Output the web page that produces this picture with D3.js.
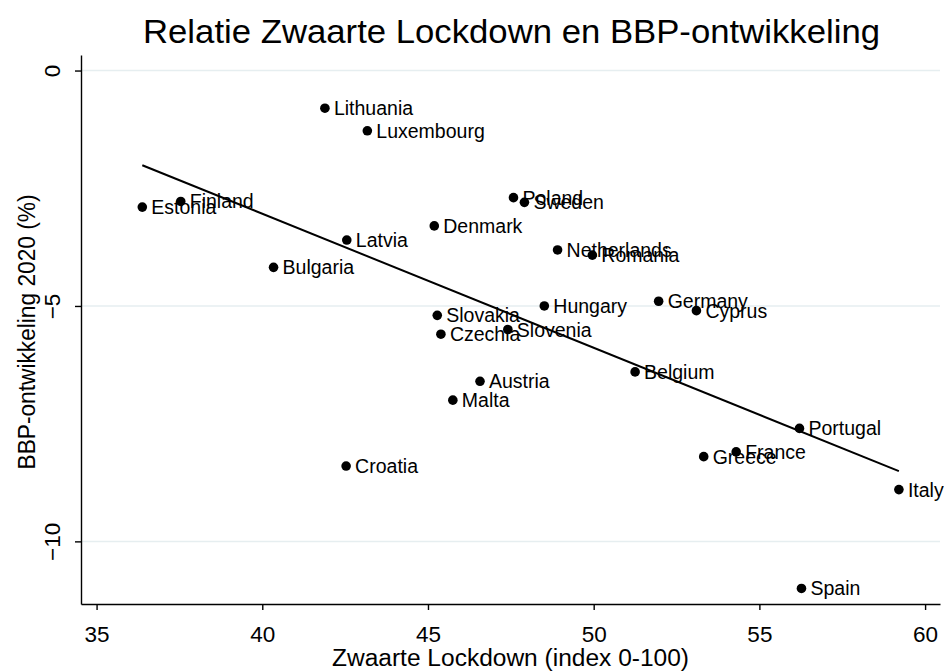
<!DOCTYPE html>
<html>
<head>
<meta charset="utf-8">
<script src="https://cdn.jsdelivr.net/npm/d3@7"></script>
<style>
  html, body { margin: 0; padding: 0; background: #fff; }
  svg { display: block; font-family: "Liberation Sans", Arial, Helvetica, sans-serif; }
</style>
</head>
<body>
<svg id="chart" width="944" height="671"></svg>
<script>
// ---- data ----
const countries = ["Estonia","Finland","Lithuania","Luxembourg","Latvia","Bulgaria","Denmark","Poland","Sweden","Netherlands","Romania","Hungary","Germany","Cyprus","Slovakia","Czechia","Slovenia","Belgium","Austria","Malta","Croatia","Portugal","France","Greece","Italy","Spain"];
const lockdown = [36.38,37.54,41.89,43.17,42.55,40.34,45.19,47.58,47.91,48.91,49.96,48.51,51.96,53.10,45.28,45.39,47.41,51.25,46.57,45.75,42.53,56.21,54.30,53.32,59.21,56.27];
const gdp = [-2.90,-2.78,-0.80,-1.28,-3.60,-4.18,-3.30,-2.70,-2.80,-3.81,-3.92,-5.00,-4.90,-5.10,-5.20,-5.60,-5.50,-6.40,-6.60,-7.00,-8.40,-7.60,-8.10,-8.20,-8.90,-11.00];
const xTicks = [35,40,45,50,55,60];
const yTicks = [0,-5,-10];
const titleText = "Relatie Zwaarte Lockdown en BBP-ontwikkeling";
const xTitle = "Zwaarte Lockdown (index 0-100)";
const yTitle = "BBP-ontwikkeling 2020 (%)";

// ---- layout ----
const plotL = 81, plotR = 940, plotT = 55, plotB = 604;
const svg = d3.select("#chart");
const x = d3.scaleLinear().domain([34.53, 60.45]).range([plotL, plotR]);
const y = d3.scaleLinear().domain([0.33, -11.33]).range([plotT, plotB]);

// gridlines
svg.append("g").selectAll("line").data(yTicks).join("line")
  .attr("x1", plotL).attr("x2", plotR)
  .attr("y1", d => y(d)).attr("y2", d => y(d))
  .attr("stroke", "#e6eef0").attr("stroke-width", 1.5);

// x axis
const gx = svg.append("g").attr("transform", `translate(0,${plotB})`)
  .call(d3.axisBottom(x).tickValues(xTicks).tickSize(6).tickSizeOuter(0).tickFormat(d3.format("d")));
gx.select(".domain").attr("stroke", "#000").attr("stroke-width", 1.4);
gx.selectAll(".tick line").attr("stroke", "#000").attr("stroke-width", 1.4);
gx.selectAll(".tick text").attr("y", 38).attr("dy", 0)
  .attr("font-size", 22.5).attr("font-family", "Liberation Sans, Arial, sans-serif").attr("fill", "#000");

// y axis
const gy = svg.append("g").attr("transform", `translate(${plotL},0)`)
  .call(d3.axisLeft(y).tickValues(yTicks).tickSize(6).tickSizeOuter(0).tickFormat(d3.format("d")));
gy.select(".domain").attr("stroke", "#000").attr("stroke-width", 1.4);
gy.selectAll(".tick line").attr("stroke", "#000").attr("stroke-width", 1.4);
gy.selectAll(".tick text")
  .attr("x", null).attr("dy", null)
  .attr("transform", "translate(-21,0) rotate(-90)")
  .attr("text-anchor", "middle")
  .attr("font-size", 22.5).attr("font-family", "Liberation Sans, Arial, sans-serif").attr("fill", "#000");

// fitted regression line
const n = lockdown.length;
const mx = d3.mean(lockdown), my = d3.mean(gdp);
let sxy = 0, sxx = 0;
for (let i = 0; i < n; i++) { sxy += (lockdown[i]-mx)*(gdp[i]-my); sxx += (lockdown[i]-mx)**2; }
const slope = sxy / sxx, intercept = my - slope*mx;
const [xmin, xmax] = d3.extent(lockdown);
svg.append("line")
  .attr("x1", x(xmin)).attr("y1", y(intercept + slope*xmin))
  .attr("x2", x(xmax)).attr("y2", y(intercept + slope*xmax))
  .attr("stroke", "#000").attr("stroke-width", 2);

// points
const pts = countries.map((c, i) => ({c, x: lockdown[i], y: gdp[i]}));
svg.append("g").selectAll("circle").data(pts).join("circle")
  .attr("cx", d => x(d.x)).attr("cy", d => y(d.y)).attr("r", 4.8).attr("fill", "#000");
svg.append("g").selectAll("text").data(pts).join("text")
  .attr("x", d => x(d.x) + 9).attr("y", d => y(d.y) + 7)
  .attr("font-size", 19.5).attr("fill", "#000").text(d => d.c);

// titles
svg.append("text").attr("x", 511.5).attr("y", 43).attr("text-anchor", "middle")
  .attr("font-size", 33).attr("textLength", 737).attr("lengthAdjust", "spacingAndGlyphs")
  .attr("fill", "#000").text(titleText);
svg.append("text").attr("x", 510.5).attr("y", 666).attr("text-anchor", "middle")
  .attr("font-size", 23).attr("textLength", 357).attr("lengthAdjust", "spacingAndGlyphs")
  .attr("fill", "#000").text(xTitle);
svg.append("text").attr("transform", "translate(35,332) rotate(-90)").attr("text-anchor", "middle")
  .attr("font-size", 23).attr("textLength", 275).attr("lengthAdjust", "spacingAndGlyphs")
  .attr("fill", "#000").text(yTitle);
</script>
</body>
</html>
